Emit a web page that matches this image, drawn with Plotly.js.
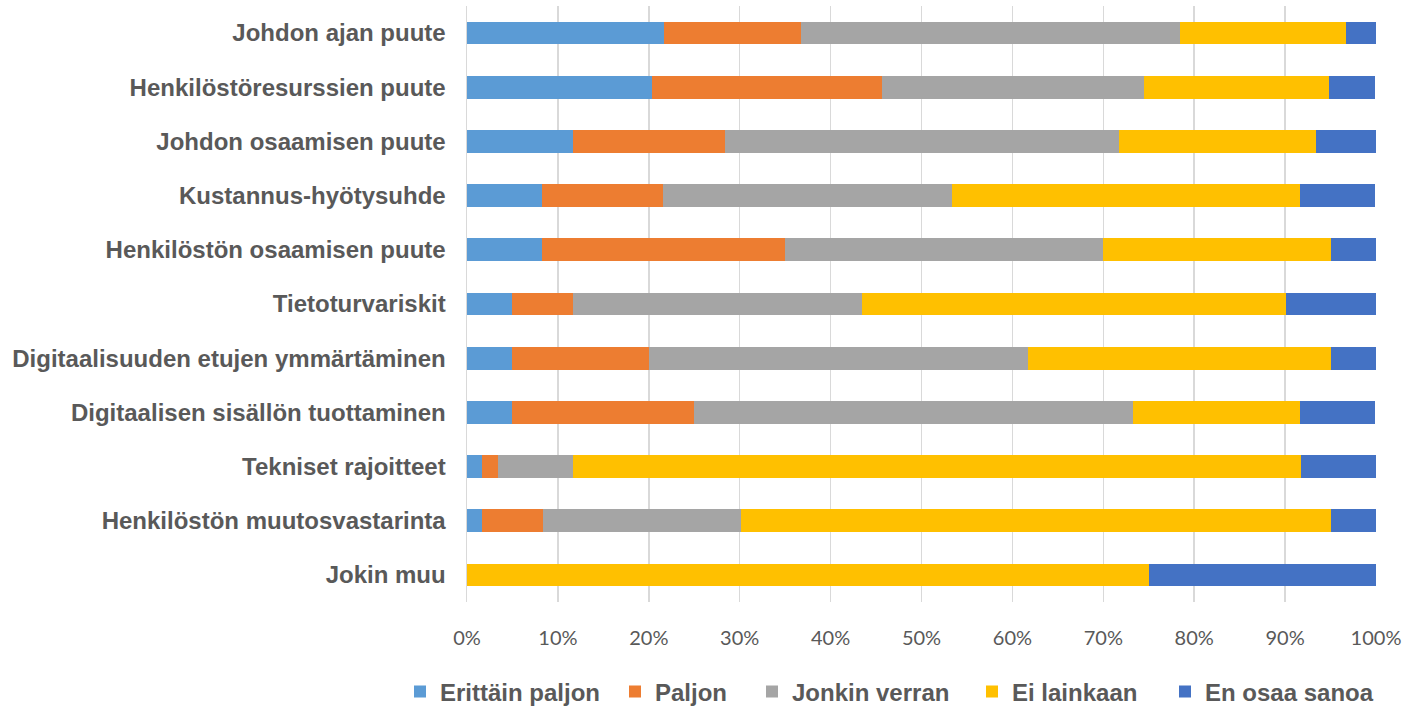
<!DOCTYPE html>
<html>
<head>
<meta charset="utf-8">
<script src="https://cdn.plot.ly/plotly-3.0.1.min.js"></script>
<style>html,body{margin:0;padding:0;background:#fff;}#chart{width:1406px;height:706px;}</style>
</head>
<body>
<div id="chart"></div>
<script>
const categories = [
  "Johdon ajan puute",
  "Henkilöstöresurssien puute",
  "Johdon osaamisen puute",
  "Kustannus-hyötysuhde",
  "Henkilöstön osaamisen puute",
  "Tietoturvariskit",
  "Digitaalisuuden etujen ymmärtäminen",
  "Digitaalisen sisällön tuottaminen",
  "Tekniset rajoitteet",
  "Henkilöstön muutosvastarinta",
  "Jokin muu"
];
const seriesNames = ["Erittäin paljon", "Paljon", "Jonkin verran", "Ei lainkaan", "En osaa sanoa"];
const erittainPaljon = [21.7, 20.3, 11.7, 8.3, 8.3, 5.0, 5.0, 5.0, 1.7, 1.7, 0];
const paljon         = [15.0, 25.4, 16.7, 13.3, 26.7, 6.7, 15.0, 20.0, 1.7, 6.7, 0];
const jonkinVerran   = [41.7, 28.8, 43.3, 31.7, 35.0, 31.7, 41.7, 48.3, 8.3, 21.7, 0];
const eiLainkaan     = [18.3, 20.3, 21.7, 38.3, 25.0, 46.7, 33.3, 18.3, 80.0, 65.0, 75.0];
const enOsaaSanoa    = [3.3, 5.1, 6.7, 8.3, 5.0, 10.0, 5.0, 8.3, 8.3, 5.0, 25.0];
const tickVals = [0,10,20,30,40,50,60,70,80,90,100];
const tickText = ["0%","10%","20%","30%","40%","50%","60%","70%","80%","90%","100%"];

// styling (not data)
const colors = ["#5B9BD5", "#ED7D31", "#A5A5A5", "#FFC000", "#4472C4"];
const legendWidths = [170, 92, 175, 148, 175];

const values = [erittainPaljon, paljon, jonkinVerran, eiLainkaan, enOsaaSanoa];

const data = values.map((v, i) => ({
  type: "bar",
  orientation: "h",
  name: seriesNames[i],
  y: categories,
  x: v,
  legendwidth: legendWidths[i],
  marker: {color: colors[i], line: {width: 0}},
  hoverinfo: "x+y+name"
}));

const layout = {
  width: 1406, height: 706,
  barmode: "stack",
  bargap: 0.58,
  paper_bgcolor: "#fff",
  plot_bgcolor: "#fff",
  margin: {l: 467, r: 30, t: 6, b: 104, autoexpand: false},
  font: {family: "Liberation Sans, Arial, sans-serif", color: "#595959"},
  xaxis: {
    range: [0, 100],
    tickvals: tickVals,
    ticktext: tickText,
    showgrid: true,
    gridcolor: "#D9D9D9",
    gridwidth: 1.5,
    zeroline: false,
    showline: false,
    ticks: "",
    tickangle: 0,
    automargin: false,
    ticklabelstandoff: 22,
    tickfont: {family: "Lato, sans-serif", size: 20, color: "#595959"},
    fixedrange: true
  },
  yaxis: {
    autorange: "reversed",
    showgrid: false,
    zeroline: false,
    showline: true,
    linecolor: "#D9D9D9",
    linewidth: 1.5,
    ticks: "",
    automargin: false,
    ticklabelstandoff: 15,
    tickfont: {size: 24, color: "#595959", weight: "bold"},
    fixedrange: true
  },
  legend: {
    orientation: "h",
    x: (400 - 467) / 909, xref: "paper", xanchor: "left",
    y: -90 / 596, yref: "paper", yanchor: "middle",
    font: {size: 24, color: "#595959", weight: "bold"},
    itemwidth: 30,
    entrywidthmode: "pixels",
    traceorder: "normal"
  },
  showlegend: true
};

Plotly.newPlot("chart", data, layout, {displayModeBar: false, staticPlot: true});
</script>
</body>
</html>
